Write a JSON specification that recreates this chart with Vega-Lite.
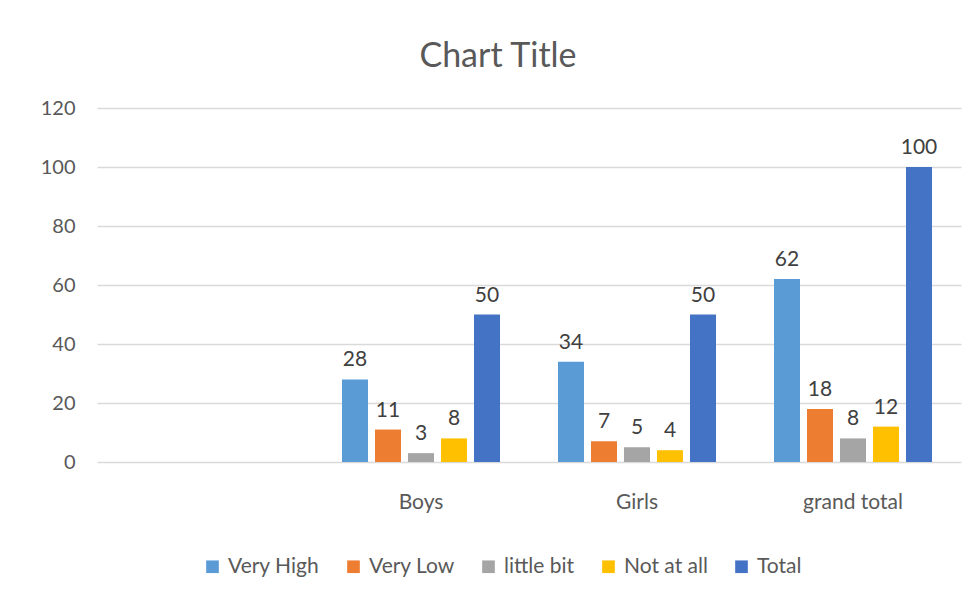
{
  "$schema": "https://vega.github.io/schema/vega-lite/v6.json",
  "autosize": {"type": "none"},
  "width": 864,
  "height": 354,
  "padding": {"left": 97, "top": 108, "right": 15, "bottom": 139},
  "background": "white",
  "title": {
    "text": "Chart Title",
    "font": "Lato",
    "fontSize": 34,
    "fontWeight": "normal",
    "color": "#595959",
    "anchor": "middle",
    "dx": -31,
    "offset": 24
  },
  "data": {
    "values": [
      {"group": "Boys", "level": "Very High", "count": 28},
      {"group": "Boys", "level": "Very Low", "count": 11},
      {"group": "Boys", "level": "little bit", "count": 3},
      {"group": "Boys", "level": "Not at all", "count": 8},
      {"group": "Boys", "level": "Total", "count": 50},
      {"group": "Girls", "level": "Very High", "count": 34},
      {"group": "Girls", "level": "Very Low", "count": 7},
      {"group": "Girls", "level": "little bit", "count": 5},
      {"group": "Girls", "level": "Not at all", "count": 4},
      {"group": "Girls", "level": "Total", "count": 50},
      {"group": "grand total", "level": "Very High", "count": 62},
      {"group": "grand total", "level": "Very Low", "count": 18},
      {"group": "grand total", "level": "little bit", "count": 8},
      {"group": "grand total", "level": "Not at all", "count": 12},
      {"group": "grand total", "level": "Total", "count": 100}
    ]
  },
  "encoding": {
    "x": {
      "field": "group",
      "type": "nominal",
      "sort": null,
      "scale": {"domain": ["", "Boys", "Girls", "grand total"], "paddingInner": 0.2685, "paddingOuter": 0.13425},
      "axis": {
        "title": null,
        "labelAngle": 0,
        "labelFont": "Lato",
        "labelFontSize": 21,
        "labelColor": "#595959",
        "labelPadding": 29,
        "ticks": false,
        "domain": false,
        "grid": false
      }
    },
    "xOffset": {
      "field": "level",
      "type": "nominal",
      "sort": ["Very High", "Very Low", "little bit", "Not at all", "Total"],
      "scale": {"paddingInner": 0.212, "paddingOuter": 0}
    },
    "y": {
      "field": "count",
      "type": "quantitative",
      "scale": {"domain": [0, 120], "nice": false},
      "axis": {
        "title": null,
        "values": [0, 20, 40, 60, 80, 100, 120],
        "labelFont": "Lato",
        "labelFontSize": 20,
        "labelColor": "#595959",
        "labelPadding": 22,
        "ticks": false,
        "domain": false,
        "grid": true,
        "gridColor": "#d9d9d9",
        "gridWidth": 1.5
      }
    }
  },
  "layer": [
    {
      "mark": {"type": "bar"},
      "encoding": {
        "color": {
          "field": "level",
          "type": "nominal",
          "sort": ["Very High", "Very Low", "little bit", "Not at all", "Total"],
          "scale": {
            "domain": ["Very High", "Very Low", "little bit", "Not at all", "Total"],
            "range": ["#5B9BD5", "#ED7D31", "#A5A5A5", "#FFC000", "#4472C4"]
          },
          "legend": {
            "title": null,
            "orient": "none",
            "direction": "horizontal",
            "columns": 5,
            "legendX": 105,
            "legendY": 448,
            "symbolType": "square",
            "symbolSize": 160,
            "symbolStrokeWidth": 0,
            "labelFont": "Lato",
            "labelFontSize": 21,
            "labelColor": "#595959",
            "labelOffset": 5,
            "columnPadding": 23
          }
        }
      }
    },
    {
      "mark": {
        "type": "text",
        "baseline": "bottom",
        "dy": -9,
        "font": "Lato",
        "fontSize": 21,
        "color": "#404040"
      },
      "encoding": {
        "text": {"field": "count", "type": "quantitative"}
      }
    }
  ],
  "config": {
    "view": {"stroke": null}
  }
}
